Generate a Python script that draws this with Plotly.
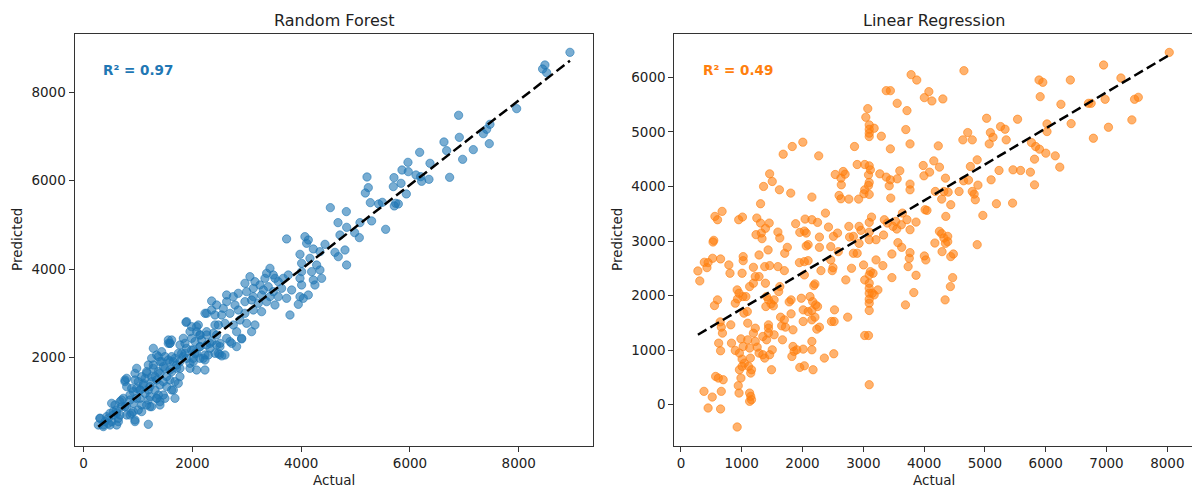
import plotly.graph_objects as go

# ---------------- Random Forest (actual, predicted), read by region ----------------
# upper part (actual > ~4500 or predicted > ~5000)
rf_actual_hi = [
    8941, 8481, 8438, 8512, 7961, 6894, 7470, 7409, 7348, 7458, 6907, 6625, 6674, 7164, 6968, 6178,
    5963, 6368, 5853, 5969, 6110, 6196, 6214, 6349, 6729, 5706, 5835, 5694, 5210, 5234, 5179, 5933,
    5271, 5424, 5491, 5737, 5786, 5712, 4536, 4830, 4677, 5295, 5081, 5553, 4983, 5069, 4836, 4713,
]
rf_pred_hi = [
    8901, 8615, 8525, 8442, 7628, 7478, 7274, 7161, 7063, 6837, 6980, 6875, 6679, 6702, 6483, 6641,
    6415, 6393, 6242, 6204, 6129, 6091, 5986, 6031, 6076, 6069, 5941, 5866, 6084, 5843, 5722, 5700,
    5504, 5474, 5511, 5489, 5474, 5429, 5391, 5301, 5052, 5090, 5052, 4901, 4826, 4713, 4946, 4773,
]
# middle part (actual ~2500-4900, predicted ~2500-5000)
rf_actual_mid = [
    3732, 4069, 4131, 4100, 4438, 4621, 4805, 4682, 4835, 3978, 4223, 4345, 4161, 4008, 4284, 4345,
    4192, 4376, 4223, 4253, 4008, 3978, 4008, 4131, 4039, 3947, 3794, 3732, 3825, 3640, 3579, 3426,
    3365, 3487, 3334, 3518, 3671, 3763, 3058, 2966, 3150, 3242, 3120, 3304, 3395, 3487, 3579, 3426,
    3273, 3120, 2997, 2844, 2752, 2630, 2630, 2783, 2966, 3089, 3212, 3365, 3518, 3273, 3120, 2966,
    2844, 2691, 2568, 2538, 2875, 2997, 3150, 2752, 2599, 3089, 2813, 3978,
]
rf_pred_mid = [
    4683, 4735, 4660, 4585, 4562, 4381, 4434, 4283, 4095, 4336, 4457, 4396, 4246, 4133, 4095, 3982,
    3944, 3794, 3756, 3643, 3944, 3794, 3643, 3417, 3342, 3206, 2965, 3342, 3530, 3568, 3718, 4020,
    3907, 3869, 3794, 3794, 3794, 3869, 3831, 3681, 3718, 3643, 3568, 3530, 3605, 3492, 3379, 3379,
    3417, 3379, 3492, 3455, 3379, 3417, 3266, 3191, 3266, 3304, 3229, 3266, 3191, 3040, 3078, 3003,
    3078, 3003, 3116, 2965, 2852, 2777, 2739, 2739, 2777, 2588, 2588, 3379,
]
# lower part, first reading
rf_actual_lo1 = [
    2446, 2354, 2906, 2722, 2630, 2446, 2415, 2262, 2354,
    1882, 1986, 2109, 2078, 2140, 2262, 2170, 2048, 1987, 1833, 1772, 1894, 2017, 2140, 2262, 2324,
    2354, 2446, 2507, 2232, 2140, 2232, 2017, 1956, 1833, 1742, 1680, 1619, 1588, 1558, 1619, 1435,
    1496, 1374, 1404, 1588, 1711, 1772, 1619, 1496, 1527, 1680, 1619, 1466, 1374, 1282, 1282, 1251,
    1190, 1313, 1251, 1159, 1129, 1068, 976, 945, 1006, 1098, 1037, 1190, 1221, 1374, 1404, 1221,
    1037, 914, 853, 792, 761, 884, 731, 669, 700, 792, 577, 547, 608, 669, 485, 455,
    394, 302, 271, 363, 485, 608, 639, 424, 516, 853, 914, 945, 1190, 1068, 1159, 1343,
    1466, 1772, 1864, 2048, 2500, 2540,
]
rf_pred_lo1 = [
    3191, 3282, 2423, 2325, 2438, 2513, 2739, 3003, 3078,
    2799, 2701, 2739, 2588, 2513, 2588, 2400, 2363, 2438, 2438, 2287, 2212, 2174, 2250, 2287, 2212,
    2363, 2287, 2250, 2061, 1986, 1948, 1986, 1873, 2024, 2099, 1986, 2024, 2325, 2325, 2400, 2136,
    2024, 2024, 1910, 1910, 1835, 1760, 1685, 1760, 1571, 1458, 1270, 1458, 1685, 1760, 2212, 1986,
    1835, 1571, 1458, 1647, 1534, 1571, 1760, 1647, 1458, 1383, 1270, 1270, 1119, 1157, 1006, 893,
    1082, 1232, 1157, 1534, 1458, 1308, 1082, 1006, 893, 893, 931, 781, 743, 705, 743, 630,
    555, 630, 479, 442, 479, 479, 555, 668, 555, 705, 781, 555, 494, 781, 931, 1082,
    1157, 1910, 2099, 2099, 2070, 2040,
]
# lower part, second reading (dense cluster)
rf_actual_lo2 = [
    301, 363, 455, 546, 638, 608, 700, 516, 792, 884, 761, 914, 853, 975, 1006, 945,
    1067, 1190, 1251, 1404, 1343, 1129, 1037, 945, 761, 792, 975, 1098, 1221, 1312, 1404, 1343,
    1251, 1159, 1282, 1404, 1466, 1435, 1343, 1558, 1588, 1588, 1650, 1527, 1496, 1680, 1741, 1772,
    1711, 1803, 1894, 2017, 1986, 2078, 2140, 1864, 1588, 1558, 1650, 1956, 2078, 2201, 2231, 2293,
    2415, 2262, 2232, 2415, 2477, 2323, 2507, 2477, 2599, 2691, 2905, 2813, 2385, 1894, 2078, 1956,
    2140,
]
rf_pred_lo2 = [
    630, 479, 517, 705, 630, 818, 1044, 969, 705, 743, 893, 969, 1044, 1082, 818, 592,
    931, 1044, 893, 931, 1082, 1195, 1270, 1496, 1496, 1345, 1308, 1421, 1345, 1270, 1383, 1496,
    1571, 1685, 1835, 1647, 1797, 1910, 2061, 1948, 1722, 1496, 1270, 1345, 1082, 1082, 1421, 1571,
    1760, 2099, 1986, 1910, 2174, 2099, 2250, 2325, 2325, 2400, 1910, 1760, 1722, 1986, 1722, 2061,
    2099, 2513, 3003, 2965, 2739, 2325, 2325, 2099, 2061, 2363, 2438, 2250, 2551, 2814, 2701, 2588,
    2513,
]

# ---------------- Linear Regression (actual, predicted) ----------------
lr_actual = [
    8032, 6952, 7237, 6405, 5890, 5952, 4655, 3786, 3879, 3377, 3445, 4078, 4004, 4128, 4308, 3557,
    3718, 3073, 3041, 3097, 3097, 3097, 3097, 3178, 3296, 3699, 3768, 3445, 2855, 2005, 1831, 1682,
    2266, 2899, 3023, 3097, 3116, 2700, 2538, 2669, 2632, 2638, 3085, 3271, 3377, 3445, 3097, 3085,
    3426, 3023, 3600, 3557, 3768, 3768, 2601, 2632, 2762, 2923, 3010, 3097, 3451, 2154, 1459, 1502,
    1359, 1620, 1806, 1310, 2377, 1887, 2042, 2154, 2030, 2247,
    3985, 3997, 4090, 4159, 4252, 4233, 4351, 4326, 4184, 4395, 4575, 4289, 4438, 4649, 4730, 4637,
    4717, 4792, 4873, 4761, 4885, 4792, 4823, 4842, 4966, 5028, 5090, 5071, 5133, 5257, 5331, 5350,
    5102, 5232, 5189, 5462, 5586, 5455, 5537, 5748, 5766, 5816, 5834, 5897, 6002, 5909, 5816, 6021,
    6021, 6157, 6231, 6250, 6418, 6703, 6747, 6784, 6977, 7032, 7417, 7461, 7523,
    540, 559, 602, 677, 950, 1012, 1248, 1310, 1390, 1452, 1322, 1235, 1334, 1595, 1626, 1955,
    2061, 2092, 2278, 2427, 2508, 2576, 2762, 2930, 2961, 2774, 2837, 3097, 3135, 3097, 3097, 3209,
    3333, 3346, 3395, 3488, 3550, 3625, 3532, 3718, 3768, 3867, 4016, 4047, 4252, 4289, 4326, 4388,
    4357, 4177, 4873, 3643,
    279, 310, 385, 447, 428, 521, 528, 652, 552, 602, 646, 664, 683, 621, 652, 832,
    820, 788, 807, 894, 925, 956, 931, 1018, 1006, 1024, 1024, 1068, 1092, 1099, 1037, 987,
    1024, 894, 962, 1006, 1043, 1006, 962, 987, 943, 956, 925, 1099, 1130, 1142, 1111, 1161,
    1148, 1130, 1148, 1130, 1161, 1192, 1223, 1254, 1285, 1347, 1378, 1347, 1409, 1440, 1223, 1192,
    1130, 1192, 1223, 1285, 1285, 1378, 1390, 1409, 1397, 1440, 1483, 1520, 1533, 1440, 1440, 1490,
    1502, 1459, 1533, 1434, 1459, 1595, 1626, 1608, 1639, 1701, 1657, 1719, 1670, 1707, 1750, 1701,
    1781, 1812, 1812, 1843, 1843, 1862, 1825, 1906, 1949, 1980, 2011, 2011, 2011, 1955, 2030, 2030,
    2092, 2061, 2030, 2092, 2123, 2166, 2154, 2216, 2247, 2154, 2204, 2154, 2154, 2173, 2235, 2278,
    2185, 2204, 2278, 2303, 2359, 2464, 2489, 2501, 2476, 2520, 2526, 2514, 2712, 2743, 2806, 2837,
    2899, 2930, 3004, 3023, 3023, 3085, 3097, 3116, 3097, 3097, 3097, 3097, 3097, 3097, 3097, 3147,
    3160, 3209, 3240, 3178, 3321, 3470, 3470, 3693, 3737, 3756, 3768, 3830, 3867, 4004, 4028, 4295,
    4351, 4388, 4438, 4481, 4432, 4469, 4345, 3631, 3569, 2464, 2588, 447, 379, 515, 664, 652,
    695, 571, 615,
]
lr_pred = [
    6457, 6226, 5988, 5951, 5951, 5909, 6122, 6049, 5951, 5756, 5756, 5738, 5628, 5567, 5604, 5524,
    5390, 5427, 5268, 5128, 5049, 4976, 4915, 5067, 4921, 5043, 4780, 4689, 4732, 4811, 4732, 4591,
    4561, 4402, 4402, 4378, 4305, 4225, 4219, 4274, 4152, 4030, 4213, 4232, 4171, 4122, 4073, 4018,
    4012, 3939, 4287, 4140, 4043, 3939, 3835, 3774, 3768, 3768, 3866, 3854, 3787, 3805, 4232, 4091,
    4000, 3939, 3878, 3683, 3512, 3317, 3402, 3390, 3183, 3341,
    4384, 4195, 4262, 4469, 4354, 4744, 4152, 3908, 3908, 3896, 3908, 3768, 3665, 4104, 4116, 4854,
    4988, 4854, 4488, 4366, 4024, 3908, 3860, 3756, 3469, 5250, 4988, 4780, 4902, 5098, 5049, 4854,
    4122, 4293, 3683, 4305, 4293, 3695, 5232, 4262, 4805, 4500, 4732, 4683, 4610, 5646, 4030, 5006,
    5146, 4561, 4354, 5506, 5152, 5524, 5524, 4884, 5598, 5085, 5220, 5598, 5634,
    3012, 3451, 3390, 3543, 3390, 3439, 3421, 3329, 3232, 3329, 3146, 3116, 3043, 3164, 3055, 3158,
    3146, 2933, 3073, 3256, 3085, 3146, 3268, 3268, 3195, 3073, 3085, 3341, 3439, 3164, 3024, 3024,
    3110, 3390, 3329, 3268, 3219, 3298, 3360, 3390, 3207, 3347, 3573, 3561, 3177, 3134, 3055, 3085,
    3451, 2963, 2933, 3512,
    2451, 2268, 2610, 2604, 2512, 2683, 2982, 2671, 1817, 1921, 1518, 1421, 1311, 1128, 988, 1128,
    1464, 2561, 2409, 1860, 2104, 2043, 1939, 1982, 2409, 2714, 2640, 1982, 1707, 1494, 1677, 1207,
    1067, 994, 945, 835, 762, 701, 640, 488, 348, 213, -409, 1189, 1037, 854, 701, 640,
    579, 213, 152, 61, 91, 1311, 1159, 1055, 945, 915, 854, 1250, 1189, 1311, 1402, 2226,
    2165, 2518, 2348, 2744, 2348, 2531, 2226, 1982, 1799, 1921, 1848, 1811, 1921, 1464, 1402, 640,
    1006, 915, 1281, 2836, 2549, 2531, 2165, 2073, 1604, 1555, 1445, 1421, 1189, 2775, 2884, 2457,
    1884, 1921, 1665, 1372, 1067, 976, 884, 1006, 2604, 1951, 1738, 1525, 1018, 683, 713, 2622,
    2640, 2909, 2378, 1707, 1982, 1890, 1726, 1829, 1799, 1555, 1604, 1159, 1006, 640, 1384, 1421,
    2183, 2213, 2884, 2457, 854, 2653, 2457, 2512, 1525, 1525, 1738, 933, 2287, 1604, 2500, 2775,
    2775, 2957, 2561, 2287, 1268, 1268, 366, 2439, 2378, 2226, 2134, 2043, 1933, 1860, 1726, 2043,
    2409, 2653, 2104, 2012, 2549, 2762, 2329, 1829, 2531, 2683, 2787, 2055, 2372, 2726, 2653, 2805,
    2957, 2988, 2714, 2762, 2165, 2329, 1921, 2884, 2970, 2897, 2805, -61, 244, 140, 244, -79,
    457, 518, 488,
]

# Fitted dashed lines (end points)
rf_line_x = [270, 8941]
rf_line_y = [441, 8712]
lr_line_x = [279, 8032]
lr_line_y = [1281, 6409]

# Tick values
rf_xticks = [0, 2000, 4000, 6000, 8000]
rf_yticks = [2000, 4000, 6000, 8000]
lr_xticks = [0, 1000, 2000, 3000, 4000, 5000, 6000, 7000, 8000]
lr_yticks = [0, 1000, 2000, 3000, 4000, 5000, 6000]

assert len(rf_actual_hi) == len(rf_pred_hi)
assert len(rf_actual_mid) == len(rf_pred_mid)
assert len(rf_actual_lo1) == len(rf_pred_lo1)
assert len(rf_actual_lo2) == len(rf_pred_lo2)
assert len(lr_actual) == len(lr_pred)

rf_actual = rf_actual_hi + rf_actual_mid + rf_actual_lo1 + rf_actual_lo2
rf_pred = rf_pred_hi + rf_pred_mid + rf_pred_lo1 + rf_pred_lo2

BLUE = "#1f77b4"
ORANGE = "#ff7f0e"
BLUE_A = "rgba(31,119,180,0.6)"
ORANGE_A = "rgba(255,127,14,0.6)"
FONT = "DejaVu Sans"
W, H = 1192, 488

fig = go.Figure()
fig.add_trace(go.Scatter(x=rf_actual, y=rf_pred, mode="markers", xaxis="x", yaxis="y",
                         marker=dict(size=8.3, color=BLUE_A, line=dict(width=1, color=BLUE_A)),
                         hoverinfo="skip"))
fig.add_trace(go.Scatter(x=rf_line_x, y=rf_line_y, mode="lines", xaxis="x", yaxis="y",
                         line=dict(color="black", width=2.5, dash="10px,4.5px"), hoverinfo="skip"))
fig.add_trace(go.Scatter(x=lr_actual, y=lr_pred, mode="markers", xaxis="x2", yaxis="y2",
                         marker=dict(size=8.3, color=ORANGE_A, line=dict(width=1, color=ORANGE_A)),
                         hoverinfo="skip"))
fig.add_trace(go.Scatter(x=lr_line_x, y=lr_line_y, mode="lines", xaxis="x2", yaxis="y2",
                         line=dict(color="black", width=2.5, dash="10px,4.5px"), hoverinfo="skip"))

ydom = [1 - 445.7 / H, 1 - 33.7 / H]
axis_common = dict(showgrid=False, zeroline=False, showline=True, mirror=True,
                   linecolor="#333333", linewidth=1, ticks="outside", ticklen=5,
                   tickwidth=1, tickcolor="#333333",
                   tickfont=dict(family=FONT, size=13.5, color="#222222"))

fig.update_layout(
    width=W, height=H, margin=dict(l=0, r=0, t=0, b=0),
    paper_bgcolor="white", plot_bgcolor="white", showlegend=False,
    font=dict(family=FONT, color="#222222"),
    xaxis=dict(domain=[74.5 / W, 593.3 / W], range=[-167, 9370], tickvals=rf_xticks,
               anchor="y", **axis_common),
    yaxis=dict(domain=ydom, range=[11, 9322], tickvals=rf_yticks, anchor="x", **axis_common),
    xaxis2=dict(domain=[674.3 / W, 1.0], range=[-109, 8406], tickvals=lr_xticks,
                anchor="y2", **axis_common),
    yaxis2=dict(domain=ydom, range=[-752, 6800], tickvals=lr_yticks, anchor="x2", **axis_common),
)

ann = []
ann.append(dict(text="Random Forest", x=334 / W, y=1 - 20 / H, xref="paper", yref="paper",
                showarrow=False, font=dict(family=FONT, size=16, color="#222222"),
                xanchor="center", yanchor="middle"))
ann.append(dict(text="Linear Regression", x=934 / W, y=1 - 20 / H, xref="paper", yref="paper",
                showarrow=False, font=dict(family=FONT, size=16, color="#222222"),
                xanchor="center", yanchor="middle"))
for xc in (334, 934):
    ann.append(dict(text="Actual", x=xc / W, y=1 - 480 / H, xref="paper", yref="paper",
                    showarrow=False, font=dict(family=FONT, size=13.5, color="#222222"),
                    xanchor="center", yanchor="middle"))
for xc in (17, 617):
    ann.append(dict(text="Predicted", x=xc / W, y=1 - 240 / H, xref="paper", yref="paper",
                    showarrow=False, textangle=-90,
                    font=dict(family=FONT, size=13.5, color="#222222"),
                    xanchor="center", yanchor="middle"))
ann.append(dict(text="<b>R² = 0.97</b>", x=101 / W, y=1 - 70.5 / H, xref="paper", yref="paper",
                showarrow=False, font=dict(family=FONT, size=13.5, color=BLUE),
                xanchor="left", yanchor="middle"))
ann.append(dict(text="<b>R² = 0.49</b>", x=701 / W, y=1 - 70.5 / H, xref="paper", yref="paper",
                showarrow=False, font=dict(family=FONT, size=13.5, color=ORANGE),
                xanchor="left", yanchor="middle"))
fig.update_layout(annotations=ann)

fig.write_html("out.html", config={"displayModeBar": False},
               post_script="document.body.style.margin='0';document.body.style.overflow='hidden';")
